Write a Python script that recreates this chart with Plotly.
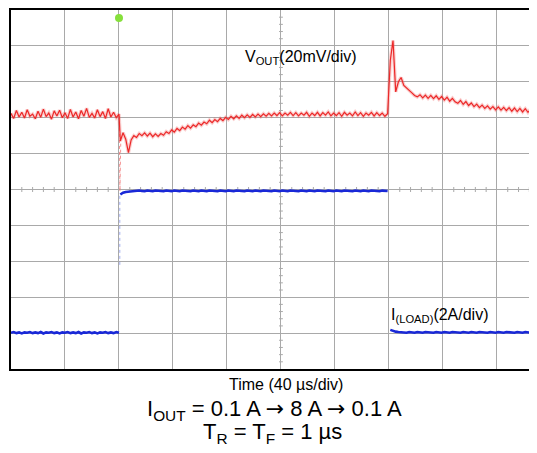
import plotly.graph_objects as go

# ---------------- data ----------------
# x: time in µs (40 µs/div), y: screen divisions (0 = bottom, 10 = top)
time_per_div_us = 40
x_range_us = 395.6
y_divs = 10
sample_step_us = 2
seg1_start_us = 0      # before load step-up
seg2_start_us = 81     # 8 A load
seg3_start_us = 281    # back to 0.1 A
trigger_time_us = 80
trigger_level_div = 9.78

vout_seg1 = [7.12, 6.98, 7.20, 7.02, 7.15, 6.99, 7.22, 7.04, 7.10, 6.97,
             7.18, 7.01, 7.24, 7.03, 7.13, 6.96, 7.19, 7.05, 7.21, 7.00,
             7.14, 6.98, 7.23, 7.02, 7.16, 6.97, 7.20, 7.04, 7.26, 7.01,
             7.12, 6.99, 7.22, 7.03, 7.17, 6.98, 7.25, 7.02, 7.15, 7.00,
             7.10]
vout_seg2 = [6.35, 6.58, 6.40, 6.03, 6.38, 6.50, 6.45, 6.56, 6.50, 6.58,
             6.49, 6.57, 6.47, 6.55, 6.48, 6.56, 6.51, 6.61, 6.56, 6.66,
             6.60, 6.70, 6.64, 6.74, 6.68, 6.78, 6.71, 6.80, 6.75, 6.85,
             6.79, 6.88, 6.83, 6.93, 6.86, 6.95, 6.89, 6.98, 6.92, 7.01,
             6.95, 7.04, 6.97, 7.05, 6.98, 7.07, 7.00, 7.08, 7.01, 7.09,
             7.02, 7.10, 7.03, 7.11, 7.04, 7.12, 7.05, 7.13, 7.06, 7.14,
             7.05, 7.13, 7.07, 7.15, 7.06, 7.14, 7.05, 7.13, 7.07, 7.15,
             7.04, 7.13, 7.06, 7.15, 7.05, 7.14, 7.07, 7.16, 7.05, 7.13,
             7.06, 7.14, 7.04, 7.15, 7.07, 7.13, 7.05, 7.16, 7.06, 7.14,
             7.04, 7.13, 7.07, 7.15, 7.05, 7.14, 7.06, 7.13, 7.04, 7.11]
vout_seg3 = [8.60, 9.15, 7.72, 8.00, 8.12, 7.90, 7.82, 7.74, 7.69, 7.62,
             7.58, 7.64, 7.55, 7.63, 7.54, 7.62, 7.53, 7.61, 7.51, 7.59,
             7.49, 7.57, 7.46, 7.54, 7.44, 7.40, 7.48, 7.37, 7.45, 7.34,
             7.41, 7.31, 7.38, 7.28, 7.35, 7.26, 7.33, 7.24, 7.31, 7.22,
             7.30, 7.21, 7.29, 7.20, 7.28, 7.18, 7.27, 7.17, 7.26, 7.16,
             7.25, 7.15, 7.24, 7.14, 7.23, 7.15, 7.22, 7.14]
# fast undershoot at the rising load edge (faint on the scope)
vout_edge_t = [80.2, 80.7, 81.3]
vout_edge_v = [7.05, 4.95, 6.30]

iload_seg1 = [1.01, 1.03, 1.00, 1.02, 0.99, 1.02, 1.01, 1.03, 1.00, 1.02,
              1.00, 1.03, 0.99, 1.02, 1.01, 1.03, 1.00, 1.02, 0.99, 1.02,
              1.01, 1.03, 1.00, 1.02, 1.00, 1.03, 0.99, 1.02, 1.01, 1.03,
              1.00, 1.02, 0.99, 1.02, 1.01, 1.03, 1.00, 1.02, 1.00, 1.03,
              1.01]
iload_seg2 = [4.86, 4.91, 4.93, 4.94, 4.95, 4.96, 4.95, 4.97, 4.96, 4.95,
              4.97, 4.96, 4.95, 4.97, 4.96, 4.96, 4.95, 4.97, 4.96, 4.95,
              4.97, 4.96, 4.95, 4.97, 4.96, 4.96, 4.95, 4.97, 4.96, 4.95,
              4.97, 4.96, 4.95, 4.97, 4.96, 4.96, 4.95, 4.97, 4.96, 4.95,
              4.97, 4.96, 4.95, 4.97, 4.96, 4.96, 4.95, 4.97, 4.96, 4.95,
              4.97, 4.96, 4.95, 4.97, 4.96, 4.96, 4.95, 4.97, 4.96, 4.95,
              4.97, 4.96, 4.95, 4.97, 4.96, 4.96, 4.95, 4.97, 4.96, 4.95,
              4.97, 4.96, 4.95, 4.97, 4.96, 4.96, 4.95, 4.97, 4.96, 4.95,
              4.97, 4.96, 4.95, 4.97, 4.96, 4.96, 4.95, 4.97, 4.96, 4.95,
              4.97, 4.96, 4.95, 4.97, 4.96, 4.96, 4.95, 4.97, 4.96, 4.96]
iload_seg3 = [1.09, 1.06, 1.04, 1.03, 1.02, 1.03, 1.01, 1.03, 1.02, 1.01,
              1.03, 1.02, 1.01, 1.03, 1.02, 1.02, 1.01, 1.03, 1.02, 1.01,
              1.03, 1.02, 1.01, 1.03, 1.02, 1.02, 1.01, 1.03, 1.02, 1.01,
              1.03, 1.02, 1.01, 1.03, 1.02, 1.02, 1.01, 1.03, 1.02, 1.01,
              1.03, 1.02, 1.01, 1.03, 1.02, 1.02, 1.01, 1.03, 1.02, 1.01,
              1.03, 1.02, 1.01, 1.03, 1.02, 1.02, 1.01, 1.03]
# sparse samples of the fast current edge
iload_edge_t = [80.6, 80.6]
iload_edge_v = [2.9, 4.85]

ARROW = '<span style="font-family:DejaVu Sans">→</span>'
vout_label = "V<sub>OUT</sub>(20mV/div)"
iload_label = "I<sub>(LOAD)</sub>(2A/div)"
x_label = "Time (40 µs/div)"
cond_line1 = f"I<sub>OUT</sub> = 0.1 A {ARROW} 8 A {ARROW} 0.1 A"
cond_line2 = "T<sub>R</sub> = T<sub>F</sub> = 1 µs"

# ---------------- build ----------------
def seg_times(start, values):
    return [start + sample_step_us * i for i in range(len(values))]

t1 = seg_times(seg1_start_us, vout_seg1)
t2 = seg_times(seg2_start_us, vout_seg2)
t3 = seg_times(seg3_start_us, vout_seg3)

vout_t = t1 + t2 + t3
vout_v = vout_seg1 + vout_seg2 + vout_seg3

it1 = seg_times(seg1_start_us, iload_seg1)
it2 = seg_times(seg2_start_us, iload_seg2)
it3 = seg_times(seg3_start_us, iload_seg3)
iload_t = it1 + [None] + it2 + [None] + it3
iload_v = iload_seg1 + [None] + iload_seg2 + [None] + iload_seg3

FONT = "Liberation Sans, Arial, Helvetica, sans-serif"
GRID = "#a9a9a9"

fig = go.Figure()

# faint edges
fig.add_trace(go.Scatter(x=vout_edge_t, y=vout_edge_v, mode="lines",
                         line=dict(color="rgba(240,110,110,0.75)", width=1, dash="dot"),
                         hoverinfo="skip", showlegend=False))
fig.add_trace(go.Scatter(x=iload_edge_t, y=iload_edge_v, mode="lines",
                         line=dict(color="rgba(90,110,230,0.55)", width=1, dash="dot"),
                         hoverinfo="skip", showlegend=False))
# VOUT: halo + line
fig.add_trace(go.Scatter(x=vout_t, y=vout_v, mode="lines",
                         line=dict(color="rgba(240,90,90,0.30)", width=3.5),
                         hoverinfo="skip", showlegend=False))
fig.add_trace(go.Scatter(x=vout_t, y=vout_v, mode="lines",
                         line=dict(color="rgb(236,40,40)", width=1.2),
                         name="VOUT", showlegend=False))
# ILOAD
fig.add_trace(go.Scatter(x=iload_t, y=iload_v, mode="lines", connectgaps=False,
                         line=dict(color="rgb(25,40,215)", width=2.6),
                         name="ILOAD", showlegend=False))
# trigger marker
fig.add_trace(go.Scatter(x=[trigger_time_us], y=[trigger_level_div], mode="markers",
                         marker=dict(symbol="circle", size=8, color="#86e03c",
                                     line=dict(width=0)),
                         cliponaxis=False, hoverinfo="skip", showlegend=False))

# centre-line minor ticks (every 1/5 division)
shapes = []
x_center = time_per_div_us * 5
y_center = y_divs / 2
tick_half_x = 0.035 * time_per_div_us
tick_half_y = 0.07
for k in range(1, y_divs * 5):
    if k % 5:
        yy = k / 5
        shapes.append(dict(type="line", xref="x", yref="y",
                           x0=x_center - tick_half_x, x1=x_center + tick_half_x,
                           y0=yy, y1=yy, line=dict(color=GRID, width=1), layer="below"))
for k in range(1, 50):
    if k % 5:
        xx = k * time_per_div_us / 5
        shapes.append(dict(type="line", xref="x", yref="y",
                           x0=xx, x1=xx, y0=y_center - tick_half_y, y1=y_center + tick_half_y,
                           line=dict(color=GRID, width=1), layer="below"))

annotations = [
    dict(x=172, y=8.67, xref="x", yref="y", text=vout_label, showarrow=False,
         xanchor="left", yanchor="middle", font=dict(family=FONT, size=16, color="black")),
    dict(x=280, y=1.5, xref="x", yref="y", text=iload_label, showarrow=False,
         xanchor="left", yanchor="middle", font=dict(family=FONT, size=16, color="black")),
    dict(x=203.5, y=-0.042, xref="x", yref="paper", text=x_label, showarrow=False,
         xanchor="center", yanchor="middle", font=dict(family=FONT, size=16, color="black")),
    dict(x=195.5, y=-0.113, xref="x", yref="paper", text=cond_line1, showarrow=False,
         xanchor="center", yanchor="middle", font=dict(family=FONT, size=22, color="black")),
    dict(x=194, y=-0.178, xref="x", yref="paper", text=cond_line2, showarrow=False,
         xanchor="center", yanchor="middle", font=dict(family=FONT, size=22, color="black")),
]

fig.update_layout(
    width=537, height=453,
    margin=dict(l=3, r=0, t=2, b=92),
    paper_bgcolor="white", plot_bgcolor="white",
    showlegend=False, hovermode=False,
    shapes=shapes, annotations=annotations,
    font=dict(family=FONT, color="black"),
)
fig.update_xaxes(range=[0, x_range_us], dtick=time_per_div_us, tick0=0,
                 showgrid=True, gridcolor=GRID, gridwidth=1,
                 showticklabels=False, ticks="", zeroline=False,
                 showline=True, linecolor="black", linewidth=1.5, mirror=True)
fig.update_yaxes(range=[0, y_divs], dtick=1, tick0=0,
                 showgrid=True, gridcolor=GRID, gridwidth=1,
                 showticklabels=False, ticks="", zeroline=False,
                 showline=True, linecolor="black", linewidth=1.5, mirror=False)

fig.write_html("out.html")
